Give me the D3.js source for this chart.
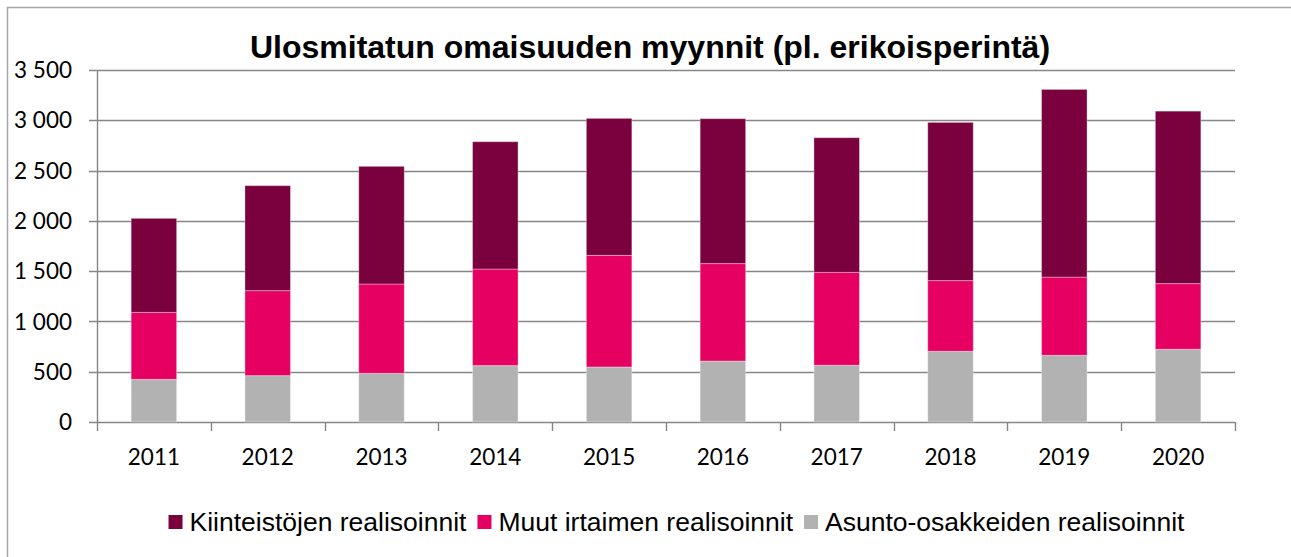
<!DOCTYPE html>
<html>
<head>
<meta charset="utf-8">
<script src="https://cdn.jsdelivr.net/npm/d3@7"></script>
<style>
  html, body { margin: 0; padding: 0; background: #fff; }
  svg { display: block; }
</style>
</head>
<body>
<svg id="chart" width="1291" height="557"></svg>
<script>
const years = ["2011","2012","2013","2014","2015","2016","2017","2018","2019","2020"];
const asunto = [424, 461, 484, 561, 547, 606, 564, 703, 663, 723];
const muut = [666, 845, 888, 960, 1110, 969, 924, 703, 778, 653];
const kiinteistot = [935, 1044, 1170, 1266, 1362, 1441, 1339, 1573, 1866, 1715];
const yTicks = [0, 500, 1000, 1500, 2000, 2500, 3000, 3500];
const seriesNames = ["Kiinteistöjen realisoinnit", "Muut irtaimen realisoinnit", "Asunto-osakkeiden realisoinnit"];
const chartTitle = "Ulosmitatun omaisuuden myynnit (pl. erikoisperintä)";

const colors = { kiint: "#7A003E", muut: "#E60062", asunto: "#B2B2B2" };
const axisColor = "#868686";

const svg = d3.select("#chart");

// outer border (extends past the visible area on right/bottom)
svg.append("rect")
  .attr("x", 7.5).attr("y", 7.5)
  .attr("width", 1400).attr("height", 700)
  .attr("fill", "none").attr("stroke", "#a6a6a6").attr("stroke-width", 1.5);

const pLeft = 97, pRight = 1235, pTop = 70, pBottom = 422;

const x = d3.scaleBand().domain(years).range([pLeft, pRight]).paddingInner(0.6).paddingOuter(0.3);
const y = d3.scaleLinear().domain([0, 3500]).range([pBottom, pTop]);

// gridlines + y tick marks
svg.append("g").selectAll("line").data(yTicks).join("line")
  .attr("x1", pLeft - 8).attr("x2", pRight)
  .attr("y1", d => Math.round(y(d)) + 0.5).attr("y2", d => Math.round(y(d)) + 0.5)
  .attr("stroke", axisColor).attr("stroke-width", 1.4);

// y axis line
svg.append("line")
  .attr("x1", pLeft + 0.5).attr("x2", pLeft + 0.5)
  .attr("y1", Math.round(y(3500))).attr("y2", Math.round(y(0)) + 1)
  .attr("stroke", axisColor).attr("stroke-width", 1.4);

// x tick marks at band boundaries
const boundaries = d3.range(years.length + 1).map(i => pLeft + i * (pRight - pLeft) / years.length);
svg.append("g").selectAll("line").data(boundaries).join("line")
  .attr("x1", d => Math.round(d) + 0.5).attr("x2", d => Math.round(d) + 0.5)
  .attr("y1", Math.round(y(0))).attr("y2", Math.round(y(0)) + 9)
  .attr("stroke", axisColor).attr("stroke-width", 1.4);

// stacked bars
const rows = years.map((yr, i) => ({ year: yr, asunto: asunto[i], muut: muut[i], kiint: kiinteistot[i] }));
const stack = d3.stack().keys(["asunto", "muut", "kiint"]);
const layers = stack(rows);
svg.append("g").selectAll("g").data(layers).join("g")
  .attr("fill", d => colors[d.key])
  .selectAll("rect").data(d => d).join("rect")
  .attr("x", d => x(d.data.year))
  .attr("width", x.bandwidth())
  .attr("y", d => y(d[1]))
  .attr("height", d => y(d[0]) - y(d[1]))
  .attr("stroke", "#ffffff").attr("stroke-opacity", 0.35).attr("stroke-width", 1);

// y labels
svg.append("g").selectAll("text").data(yTicks).join("text")
  .attr("x", 72).attr("y", d => y(d))
  .attr("dy", "0.36em")
  .attr("text-anchor", "end")
  .attr("font-family", "Lato, 'Open Sans', sans-serif")
  .attr("font-size", 22.5)
  .attr("fill", "#000")
  .text(d => d === 0 ? "0" : d3.format(",")(d).replace(/,/g, " "));

// x labels
svg.append("g").selectAll("text").data(years).join("text")
  .attr("x", d => x(d) + x.bandwidth() / 2).attr("y", 465)
  .attr("text-anchor", "middle")
  .attr("font-family", "Lato, 'Open Sans', sans-serif")
  .attr("font-size", 22.5)
  .attr("fill", "#000")
  .text(d => d);

// title
svg.append("text")
  .attr("x", 650).attr("y", 58)
  .attr("text-anchor", "middle")
  .attr("font-family", "'Liberation Sans', Arial, sans-serif")
  .attr("font-weight", "bold")
  .attr("font-size", 32)
  .attr("fill", "#000")
  .text(chartTitle);

// legend
const legendColors = [colors.kiint, colors.muut, colors.asunto];
const lg = svg.append("g");
const items = lg.selectAll("g").data(seriesNames).join("g");
items.append("rect").attr("width", 14).attr("height", 14).attr("y", 515)
  .attr("fill", (d, i) => legendColors[i]);
items.append("text").attr("x", 21).attr("y", 531)
  .attr("font-family", "'Liberation Sans', Arial, sans-serif")
  .attr("font-size", 26.5)
  .attr("fill", "#000")
  .text(d => d);
let widths = [];
items.each(function() { widths.push(21 + d3.select(this).select("text").node().getComputedTextLength()); });
const gap = 11;
const total = d3.sum(widths) + gap * (widths.length - 1);
let cx = 676.5 - total / 2;
items.attr("transform", (d, i) => { const t = `translate(${cx},0)`; cx += widths[i] + gap; return t; });
</script>
</body>
</html>
